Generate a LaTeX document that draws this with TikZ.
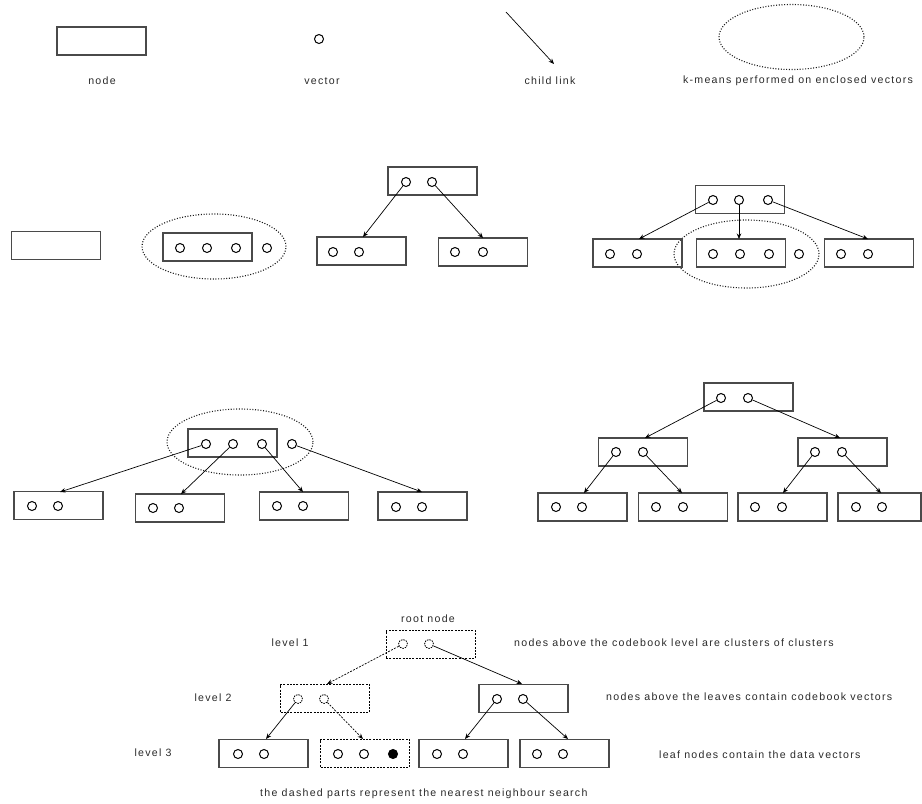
\documentclass[tikz,border=0pt]{standalone}
\usepackage{fontspec}
\usetikzlibrary{arrows.meta,shapes.geometric}
\newfontfamily\lblfam{Liberation Sans}[LetterSpace=12]
\newcommand{\lblfont}{\lblfam\fontsize{10.6}{12}\selectfont}
\definecolor{boxgray}{HTML}{4A4A4A}
\definecolor{dotgray}{HTML}{1A1A1A}
\definecolor{textgray}{HTML}{2A2A2A}
\tikzset{
  box/.style={draw=boxgray, line width=1.1pt, minimum width=89pt, minimum height=28pt, inner sep=0pt},
  dbox/.style={box, draw=black, line width=0.9pt, dash pattern=on 2pt off 1.3pt},
  vec/.style={circle, draw=black, line width=1pt, minimum size=9pt, inner sep=0pt},
  dvec/.style={vec, line width=0.8pt, dash pattern=on 1.5pt off 1pt},
  fvec/.style={vec, fill=black},
  link/.style={-{Stealth[length=5.5pt,width=4.5pt]}, line width=0.7pt, draw=black},
  dlink/.style={link, dash pattern=on 2pt off 1.3pt},
  km/.style={ellipse, draw=dotgray, line width=1.1pt, dash pattern=on 1pt off 1.7pt, inner sep=0pt},
  lbl/.style={font=\lblfont, text=textgray, inner sep=0pt}
}
\begin{document}
\begin{tikzpicture}[x=1pt,y=-1pt]
\useasboundingbox (0,0) rectangle (922,804);

% ---------------- legend ----------------
\node[box] (lgbox) at (101.5,41) {};
\node[lbl] (lgboxt) at (102,81) {node};
\node[vec] (lgvec) at (319,39) {};
\node[lbl] (lgvect) at (322,81) {vector};
\coordinate (cla) at (506,12);
\coordinate (clb) at (554,64);
\draw[link] (cla) -- (clb);
\node[lbl] (lglinkt) at (550,81) {child link};
\node[km, minimum width=145pt, minimum height=65pt] (lgell) at (791.5,37) {};
\node[lbl] (lgellt) at (798,81) {k-means performed on enclosed vectors};

% ---------------- row 2 ----------------
\node[box] (a0) at (56,245.5) {};

\node[km, minimum width=144pt, minimum height=65pt] (a1e) at (214,246.5) {};
\node[box] (a1) at (207.5,247) {};
\node[vec] (a1v1) at (180,248) {};
\node[vec] (a1v2) at (207,248) {};
\node[vec] (a1v3) at (236,248) {};
\node[vec] (a1v4) at (267,248) {};

% tree A
\node[box] (ta) at (432.5,181) {};
\node[vec] (tav1) at (406,182) {};
\node[vec] (tav2) at (432,182) {};
\node[box] (tal) at (361.5,251) {};
\node[vec] (talv1) at (333,252) {};
\node[vec] (talv2) at (359,252) {};
\node[box] (tar) at (483,252) {};
\node[vec] (tarv1) at (455,252) {};
\node[vec] (tarv2) at (483,252) {};
\coordinate (tat1) at (363,237);
\coordinate (tat2) at (483,238);
\draw[link] (tav1) -- (tat1);
\draw[link] (tav2) -- (tat2);

% tree B
\node[km, minimum width=145pt, minimum height=68pt] (tbe) at (746.5,254) {};
\node[box] (tb) at (740,199.5) {};
\node[vec] (tbv1) at (713,200) {};
\node[vec] (tbv2) at (739,200) {};
\node[vec] (tbv3) at (768,200) {};
\node[box] (tbl) at (637.5,253) {};
\node[vec] (tblv1) at (610,254) {};
\node[vec] (tblv2) at (637,254) {};
\node[box] (tbm) at (741,253) {};
\node[vec] (tbmv1) at (713,254) {};
\node[vec] (tbmv2) at (740,254) {};
\node[vec] (tbmv3) at (769,254) {};
\node[vec] (tbmv4) at (799,254) {};
\node[box] (tbr) at (869,253) {};
\node[vec] (tbrv1) at (841,254) {};
\node[vec] (tbrv2) at (868,254) {};
\coordinate (tbt1) at (639,239);
\coordinate (tbt2) at (739,239);
\coordinate (tbt3) at (868,239);
\draw[link] (tbv1) -- (tbt1);
\draw[link] (tbv2) -- (tbt2);
\draw[link] (tbv3) -- (tbt3);

% ---------------- row 3 left ----------------
\node[km, minimum width=146pt, minimum height=66pt] (tce) at (240,442) {};
\node[box] (tc) at (232.5,443) {};
\node[vec] (tcv1) at (206,444) {};
\node[vec] (tcv2) at (233,444) {};
\node[vec] (tcv3) at (262,444) {};
\node[vec] (tcv4) at (292,444) {};
\node[box] (tc1) at (58.5,505.5) {};
\node[vec] (tc1v1) at (32,506) {};
\node[vec] (tc1v2) at (58,506) {};
\node[box] (tc2) at (180,508) {};
\node[vec] (tc2v1) at (153,508) {};
\node[vec] (tc2v2) at (179,508) {};
\node[box] (tc3) at (304,506) {};
\node[vec] (tc3v1) at (277,506) {};
\node[vec] (tc3v2) at (303,506) {};
\node[box] (tc4) at (422.5,506) {};
\node[vec] (tc4v1) at (396,507) {};
\node[vec] (tc4v2) at (422,507) {};
\coordinate (tct1) at (60,492);
\coordinate (tct2) at (181,494);
\coordinate (tct3) at (303,492);
\coordinate (tct4) at (422,492);
\draw[link] (tcv1) -- (tct1);
\draw[link] (tcv2) -- (tct2);
\draw[link] (tcv3) -- (tct3);
\draw[link] (tcv4) -- (tct4);

% ---------------- row 3 right ----------------
\node[box] (td) at (748.5,397) {};
\node[vec] (tdv1) at (721,398) {};
\node[vec] (tdv2) at (748,398) {};
\node[box] (tda) at (643,452) {};
\node[vec] (tdav1) at (616,452) {};
\node[vec] (tdav2) at (643,452) {};
\node[box] (tdb) at (842.5,452) {};
\node[vec] (tdbv1) at (815,452) {};
\node[vec] (tdbv2) at (842,452) {};
\node[box] (td1) at (582.5,507) {};
\node[vec] (td1v1) at (556,507) {};
\node[vec] (td1v2) at (582,507) {};
\node[box] (td2) at (683,507) {};
\node[vec] (td2v1) at (656,507) {};
\node[vec] (td2v2) at (683,507) {};
\node[box] (td3) at (782.5,507) {};
\node[vec] (td3v1) at (755,507) {};
\node[vec] (td3v2) at (782,507) {};
\node[box, minimum width=83pt] (td4) at (879.5,507) {};
\node[vec] (td4v1) at (856,507) {};
\node[vec] (td4v2) at (882,507) {};
\coordinate (tdt1) at (645,438);
\coordinate (tdt2) at (840,438);
\coordinate (tdt3) at (584,493);
\coordinate (tdt4) at (682,493);
\coordinate (tdt5) at (783,493);
\coordinate (tdt6) at (881,493);
\draw[link] (tdv1) -- (tdt1);
\draw[link] (tdv2) -- (tdt2);
\draw[link] (tdav1) -- (tdt3);
\draw[link] (tdav2) -- (tdt4);
\draw[link] (tdbv1) -- (tdt5);
\draw[link] (tdbv2) -- (tdt6);

% ---------------- row 4 ----------------
\node[lbl] (rootlbl) at (428,619) {root node};
\node[lbl] (lv1) at (290,643) {level 1};
\node[lbl] (lv2) at (213,698) {level 2};
\node[lbl] (lv3) at (153,753) {level 3};

\node[dbox] (te) at (430.5,644.5) {};
\node[dvec] (tev1) at (403,644) {};
\node[dvec] (tev2) at (429,644) {};
\node[dbox] (tea) at (325,698.5) {};
\node[dvec] (teav1) at (298,699) {};
\node[dvec] (teav2) at (324,699) {};
\node[box] (teb) at (523.5,698.5) {};
\node[vec] (tebv1) at (497,699) {};
\node[vec] (tebv2) at (523,699) {};
\node[box] (te1) at (263.5,753.5) {};
\node[vec] (te1v1) at (238,754) {};
\node[vec] (te1v2) at (264,754) {};
\node[dbox] (te2) at (365,753.5) {};
\node[vec] (te2v1) at (338,754) {};
\node[vec] (te2v2) at (364,754) {};
\node[fvec] (te2v3) at (393,754) {};
\node[box] (te3) at (463.5,753.5) {};
\node[vec] (te3v1) at (437,754) {};
\node[vec] (te3v2) at (463,754) {};
\node[box] (te4) at (564.5,753.5) {};
\node[vec] (te4v1) at (537,754) {};
\node[vec] (te4v2) at (563,754) {};
\coordinate (tet1) at (327,684);
\coordinate (tet2) at (522,684);
\coordinate (tet3) at (266,739);
\coordinate (tet4) at (363,739);
\coordinate (tet5) at (465,739);
\coordinate (tet6) at (568,739);
\draw[dlink] (tev1) -- (tet1);
\draw[link] (tev2) -- (tet2);
\draw[link] (teav1) -- (tet3);
\draw[dlink] (teav2) -- (tet4);
\draw[link] (tebv1) -- (tet5);
\draw[link] (tebv2) -- (tet6);

\node[lbl, anchor=west] (n1) at (514,643) {nodes above the codebook level are clusters of clusters};
\node[lbl, anchor=west] (n2) at (606,697) {nodes above the leaves contain codebook vectors};
\node[lbl, anchor=west] (n3) at (659,755) {leaf nodes contain the data vectors};
\node[lbl, anchor=west] (n4) at (260,794) {the dashed parts represent the nearest neighbour search};
\end{tikzpicture}
\end{document}
